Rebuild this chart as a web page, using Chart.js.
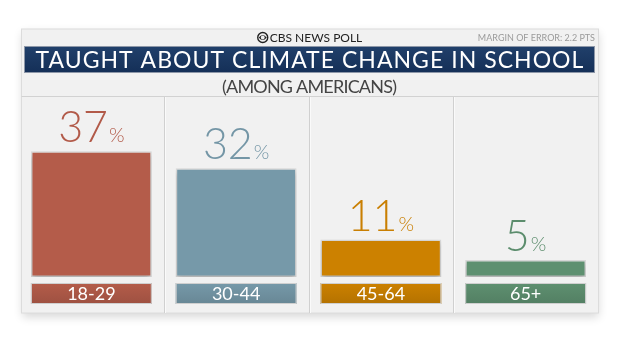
<!DOCTYPE html>
<html>
<head>
<meta charset="utf-8">
<title>Taught about climate change in school</title>
<script src="https://cdn.jsdelivr.net/npm/chart.js@4/dist/chart.umd.min.js"></script>
<style>
    html, body { margin: 0; padding: 0; background: #fff; }
    #wrap { position: relative; width: 620px; height: 349px; }
</style>
</head>
<body>
<div id="wrap"><canvas id="pollChart" width="620" height="349"></canvas></div>
<script>
(function () {
    'use strict';

    var categories = ['18-29', '30-44', '45-64', '65+'];
    var values = [37, 32, 11, 5];
    var barColors = ['#B45C4A', '#7699A9', '#CC8100', '#5E9070'];
    var labelColors = ['#B25A49', '#7496A6', '#C97F02', '#5C8D6D'];

    var brand = 'CBS NEWS POLL';
    var margin = 'MARGIN OF ERROR: 2.2 PTS';
    var title = 'TAUGHT ABOUT CLIMATE CHANGE IN SCHOOL';
    var subtitle = '(AMONG AMERICANS)';

    var FONT = '"Lato", "Open Sans", "DejaVu Sans", sans-serif';

    function drawEye(ctx, cx, cy, r) {
        ctx.save();
        ctx.strokeStyle = '#222';
        ctx.fillStyle = '#222';
        ctx.lineWidth = 1.4;
        ctx.beginPath();
        ctx.arc(cx, cy, r, 0, Math.PI * 2);
        ctx.stroke();
        ctx.beginPath();
        ctx.moveTo(cx - r + 1, cy);
        ctx.quadraticCurveTo(cx, cy - r, cx + r - 1, cy);
        ctx.quadraticCurveTo(cx, cy + r, cx - r + 1, cy);
        ctx.fill();
        ctx.fillStyle = '#f2f2f2';
        ctx.beginPath();
        ctx.arc(cx, cy, r * 0.38, 0, Math.PI * 2);
        ctx.fill();
        ctx.restore();
    }

    // spread a line of text over a given width with letter spacing
    function fillSpread(ctx, text, cx, cy, width) {
        ctx.letterSpacing = '0px';
        var w = ctx.measureText(text).width;
        var extra = (width - w) / (text.length - 1);
        ctx.letterSpacing = extra.toFixed(2) + 'px';
        ctx.textAlign = 'left';
        ctx.fillText(text, cx - width / 2, cy);
        ctx.letterSpacing = '0px';
    }

    // panel, header band and column dividers go under the bars
    var panelPlugin = {
        id: 'panel',
        beforeDatasetsDraw: function (chart) {
            var ctx = chart.ctx;
            var bars = chart.getDatasetMeta(0).data;
            var left = 21.5, right = 598.5, top = 29, bottom = 313;

            ctx.save();
            ctx.shadowColor = 'rgba(0, 0, 0, 0.16)';
            ctx.shadowBlur = 9;
            ctx.shadowOffsetY = 4;
            ctx.fillStyle = '#f1f1f1';
            ctx.fillRect(left, top, right - left, bottom - top);
            ctx.restore();

            ctx.save();
            ctx.strokeStyle = '#dcdcdc';
            ctx.lineWidth = 1;
            ctx.strokeRect(left, top, right - left, bottom - top);

            // separator under subtitle
            ctx.strokeStyle = '#d2d2d2';
            ctx.beginPath();
            ctx.moveTo(left, 96.5);
            ctx.lineTo(right, 96.5);
            ctx.stroke();

            // column dividers between categories
            for (var i = 0; i < bars.length - 1; i++) {
                var x = Math.round((bars[i].x + bars[i + 1].x) / 2) + 0.5;
                ctx.strokeStyle = '#d0d0d0';
                ctx.beginPath();
                ctx.moveTo(x, 97);
                ctx.lineTo(x, bottom);
                ctx.stroke();
                ctx.strokeStyle = '#fafafa';
                ctx.beginPath();
                ctx.moveTo(x + 1, 97);
                ctx.lineTo(x + 1, bottom);
                ctx.stroke();
            }

            // title bar
            var g = ctx.createLinearGradient(0, 46, 0, 73);
            g.addColorStop(0, '#21406b');
            g.addColorStop(1, '#142f57');
            ctx.fillStyle = g;
            ctx.fillRect(24, 46, 571, 27);
            ctx.strokeStyle = '#8d97a8';
            ctx.strokeRect(24.5, 46.5, 570, 26);

            ctx.textBaseline = 'middle';
            ctx.fillStyle = '#ffffff';
            ctx.font = '400 23px ' + FONT;
            fillSpread(ctx, title, 309.5, 60.5, 548);

            ctx.fillStyle = '#222';
            ctx.font = '400 12px ' + FONT;
            var bw = ctx.measureText(brand).width;
            ctx.textAlign = 'left';
            var bx = 310 - (bw + 12) / 2;
            drawEye(ctx, bx + 5, 37.5, 5);
            ctx.fillText(brand, bx + 12, 38);

            ctx.textAlign = 'right';
            ctx.fillStyle = '#9a9a9a';
            ctx.font = '400 9px ' + FONT;
            ctx.fillText(margin, 595, 38);

            ctx.fillStyle = '#444';
            ctx.font = '400 18px ' + FONT;
            fillSpread(ctx, subtitle, 309.5, 87, 175);
            ctx.restore();

            // soft shadow for bars
            ctx.save();
            ctx.shadowColor = 'rgba(0, 0, 0, 0.22)';
            ctx.shadowBlur = 5;
            ctx.shadowOffsetY = 3;
        },
        afterDatasetsDraw: function (chart) {
            var ctx = chart.ctx;
            ctx.restore();

            var bars = chart.getDatasetMeta(0).data;
            ctx.save();
            bars.forEach(function (bar, i) {
                var half = bar.width / 2;
                // category box
                var g = ctx.createLinearGradient(0, 283, 0, 304);
                g.addColorStop(0, barColors[i]);
                g.addColorStop(1, shade(barColors[i], -0.12));
                ctx.fillStyle = g;
                ctx.fillRect(bar.x - half, 283, bar.width, 21);
                ctx.strokeStyle = '#cfcfcf';
                ctx.lineWidth = 1;
                ctx.strokeRect(bar.x - half + 0.5, 283.5, bar.width - 1, 20);
                ctx.fillStyle = '#ffffff';
                ctx.textAlign = 'center';
                ctx.textBaseline = 'middle';
                ctx.font = '400 18px ' + FONT;
                ctx.fillText(categories[i], bar.x, 294);

                // value label: big number plus small percent sign
                var num = String(values[i]);
                ctx.textBaseline = 'alphabetic';
                ctx.font = '300 43px ' + FONT;
                var nw = ctx.measureText(num).width;
                ctx.font = '300 20px ' + FONT;
                var pw = ctx.measureText('%').width;
                var gap = 1;
                var start = bar.x - (nw + gap + pw) / 2;
                var base = bar.y - 9;
                ctx.fillStyle = labelColors[i];
                ctx.textAlign = 'left';
                ctx.font = '300 43px ' + FONT;
                ctx.fillText(num, start, base);
                ctx.font = '300 20px ' + FONT;
                ctx.fillText('%', start + nw + gap, base);
            });
            ctx.restore();
        }
    };

    function shade(hex, amt) {
        var n = parseInt(hex.slice(1), 16);
        var r = (n >> 16) & 255, g = (n >> 8) & 255, b = n & 255;
        function f(c) { return Math.max(0, Math.min(255, Math.round(c * (1 + amt)))); }
        return 'rgb(' + f(r) + ',' + f(g) + ',' + f(b) + ')';
    }

    function renderChart() {
        var canvas = document.getElementById('pollChart');
        if (!canvas || typeof Chart === 'undefined') return false;

        new Chart(canvas, {
            type: 'bar',
            data: {
                labels: categories,
                datasets: [{
                    data: values,
                    backgroundColor: barColors,
                    borderColor: '#d9d9d9',
                    borderWidth: 1.5,
                    borderSkipped: false,
                    categoryPercentage: 0.835,
                    barPercentage: 1
                }]
            },
            options: {
                responsive: false,
                animation: false,
                events: [],
                layout: { padding: { left: 19, right: 22, top: 107, bottom: 72 } },
                scales: {
                    x: { display: false },
                    y: { display: false, min: 0, max: 50 }
                },
                plugins: {
                    legend: { display: false },
                    title: { display: false },
                    tooltip: { enabled: false }
                }
            },
            plugins: [panelPlugin]
        });
        return true;
    }

    if (document.readyState === 'loading') {
        document.addEventListener('DOMContentLoaded', renderChart);
    } else {
        renderChart();
    }
})();
</script>
</body>
</html>
